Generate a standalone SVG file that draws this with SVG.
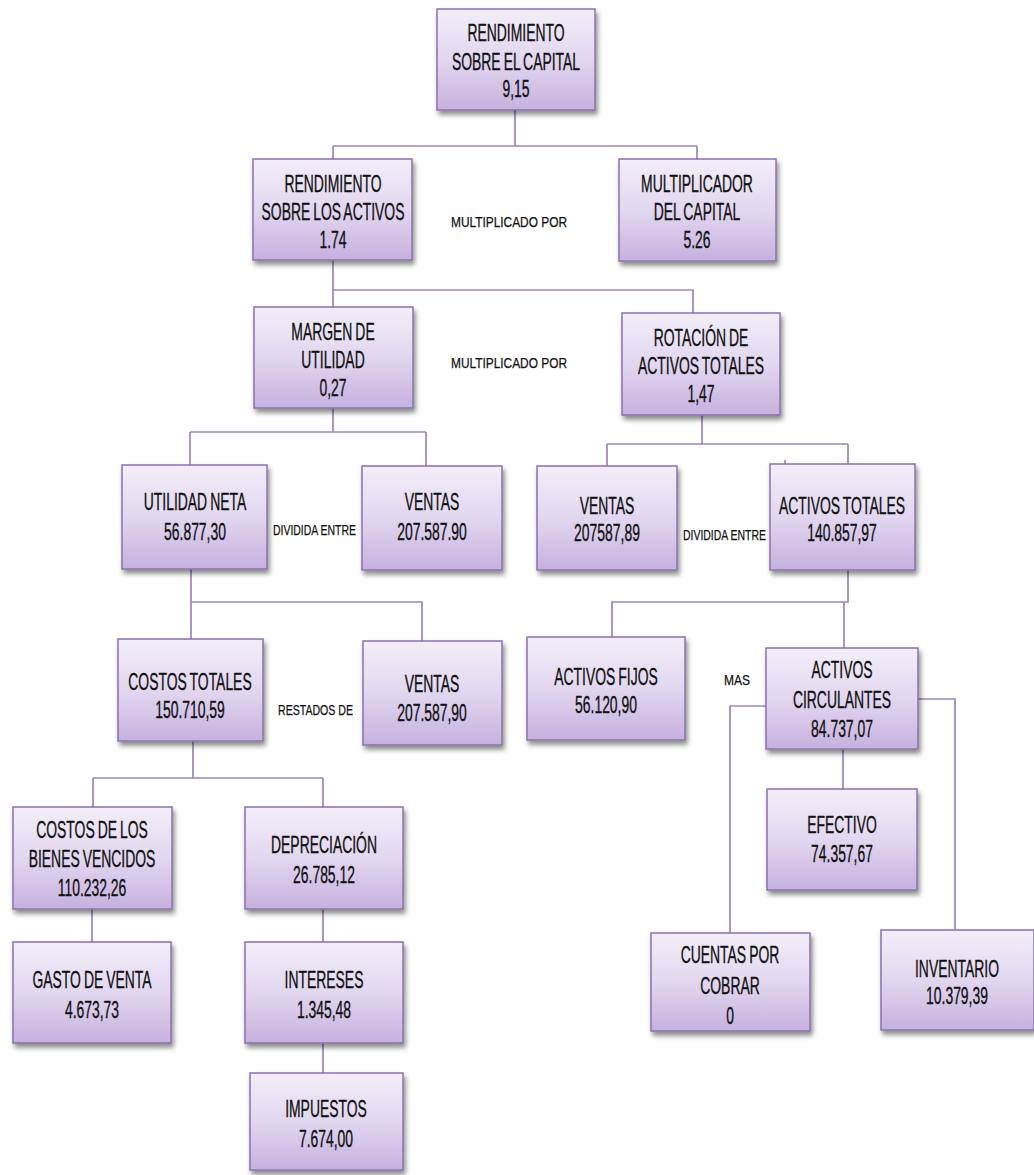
<svg xmlns="http://www.w3.org/2000/svg" width="1034" height="1175" viewBox="0 0 1034 1175">
<defs>
<linearGradient id="g" x1="0" y1="0" x2="0" y2="1">
<stop offset="0" stop-color="#f3eff9"/>
<stop offset="0.5" stop-color="#e2d7f0"/>
<stop offset="1" stop-color="#c6b1df"/>
</linearGradient>
<filter id="sh" x="-10%" y="-10%" width="125%" height="130%">
<feDropShadow dx="2" dy="4" stdDeviation="2.5" flood-color="#000" flood-opacity="0.45"/>
</filter>
</defs>
<style>
.box{fill:url(#g);stroke:#8a72ad;stroke-width:1.5;filter:url(#sh)}
.t{font-family:"Liberation Sans",Arial,sans-serif;font-size:24px;fill:#111;stroke:#111;stroke-width:0.35;text-anchor:middle;word-spacing:-1.5px}
.l{font-family:"Liberation Sans",Arial,sans-serif;font-size:14px;fill:#111;stroke:#111;stroke-width:0.25}
.c{fill:none;stroke:#9a86bb;stroke-width:1.7}
</style>
<g id="connectors">
<path class="c" d="M515 110V146M333 146H697M333 146V159M697 146V159"/>
<path class="c" d="M333 260V290H693V313M333 290V307"/>
<path class="c" d="M333 408V432M190 432H426M190 432V465M426 432V466"/>
<path class="c" d="M702 415V444M607 444H848M607 444V466M848 444V464M785 460V465"/>
<path class="c" d="M848 570V602H612V637M844 602V648"/>
<path class="c" d="M766 706H730V933M918 699H955V930M843 749V789"/>
<path class="c" d="M191 569V602H422V641M191 602V639"/>
<path class="c" d="M193 741V778M93 778H323M93 778V807M323 778V807"/>
<path class="c" d="M92 909V942M323 909V942M323 1043V1073"/>
</g>
<g id="n1"><rect class="box" x="437" y="9" width="158" height="101"/><text class="t" transform="translate(516 41) scale(0.58 1)">RENDIMIENTO</text><text class="t" transform="translate(516 70) scale(0.58 1)">SOBRE EL CAPITAL</text><text class="t" transform="translate(516 97) scale(0.58 1)">9,15</text></g>
<g id="n2"><rect class="box" x="253" y="159" width="159" height="101"/><text class="t" transform="translate(333 192) scale(0.58 1)">RENDIMIENTO</text><text class="t" transform="translate(333 220) scale(0.58 1)">SOBRE LOS ACTIVOS</text><text class="t" transform="translate(333 248) scale(0.58 1)">1.74</text></g>
<text class="l" x="451" y="227" textLength="116" lengthAdjust="spacingAndGlyphs">MULTIPLICADO POR</text>
<g id="n3"><rect class="box" x="619" y="159" width="157" height="102"/><text class="t" transform="translate(697 192) scale(0.58 1)">MULTIPLICADOR</text><text class="t" transform="translate(697 220) scale(0.58 1)">DEL CAPITAL</text><text class="t" transform="translate(697 248) scale(0.58 1)">5.26</text></g>
<g id="n4"><rect class="box" x="254" y="307" width="159" height="101"/><text class="t" transform="translate(333 340) scale(0.58 1)">MARGEN DE</text><text class="t" transform="translate(333 368) scale(0.58 1)">UTILIDAD</text><text class="t" transform="translate(333 396) scale(0.58 1)">0,27</text></g>
<text class="l" x="451" y="368" textLength="116" lengthAdjust="spacingAndGlyphs">MULTIPLICADO POR</text>
<g id="n5"><rect class="box" x="622" y="313" width="158" height="102"/><text class="t" transform="translate(701 346) scale(0.58 1)">ROTACIÓN DE</text><text class="t" transform="translate(701 374) scale(0.58 1)">ACTIVOS TOTALES</text><text class="t" transform="translate(701 402) scale(0.58 1)">1,47</text></g>
<g id="n6"><rect class="box" x="122" y="465" width="145" height="104"/><text class="t" transform="translate(195 510) scale(0.58 1)">UTILIDAD NETA</text><text class="t" transform="translate(195 540) scale(0.58 1)">56.877,30</text></g>
<text class="l" x="273" y="535" textLength="83" lengthAdjust="spacingAndGlyphs">DIVIDIDA ENTRE</text>
<g id="n7"><rect class="box" x="362" y="466" width="140" height="104"/><text class="t" transform="translate(432 510) scale(0.58 1)">VENTAS</text><text class="t" transform="translate(432 540) scale(0.58 1)">207.587.90</text></g>
<g id="n8"><rect class="box" x="537" y="466" width="140" height="104"/><text class="t" transform="translate(607 514) scale(0.58 1)">VENTAS</text><text class="t" transform="translate(607 541) scale(0.58 1)">207587,89</text></g>
<text class="l" x="683" y="540" textLength="83" lengthAdjust="spacingAndGlyphs">DIVIDIDA ENTRE</text>
<g id="n9"><rect class="box" x="770" y="464" width="145" height="106"/><text class="t" transform="translate(842 514) scale(0.58 1)">ACTIVOS TOTALES</text><text class="t" transform="translate(842 541) scale(0.58 1)">140.857,97</text></g>
<g id="n10"><rect class="box" x="527" y="637" width="158" height="103"/><text class="t" transform="translate(606 685) scale(0.58 1)">ACTIVOS FIJOS</text><text class="t" transform="translate(606 713) scale(0.58 1)">56.120,90</text></g>
<text class="l" x="724" y="685" textLength="26" lengthAdjust="spacingAndGlyphs">MAS</text>
<g id="n11"><rect class="box" x="766" y="648" width="152" height="101"/><text class="t" transform="translate(842 678) scale(0.58 1)">ACTIVOS</text><text class="t" transform="translate(842 708) scale(0.58 1)">CIRCULANTES</text><text class="t" transform="translate(842 737) scale(0.58 1)">84.737,07</text></g>
<g id="n12"><rect class="box" x="767" y="789" width="150" height="101"/><text class="t" transform="translate(842 833) scale(0.58 1)">EFECTIVO</text><text class="t" transform="translate(842 862) scale(0.58 1)">74.357,67</text></g>
<g id="n13"><rect class="box" x="651" y="933" width="159" height="98"/><text class="t" transform="translate(730 963) scale(0.58 1)">CUENTAS POR</text><text class="t" transform="translate(730 994) scale(0.58 1)">COBRAR</text><text class="t" transform="translate(730 1024) scale(0.58 1)">0</text></g>
<g id="n14"><rect class="box" x="881" y="930" width="153" height="100"/><text class="t" transform="translate(957 977) scale(0.58 1)">INVENTARIO</text><text class="t" transform="translate(957 1004) scale(0.58 1)">10.379,39</text></g>
<g id="n15"><rect class="box" x="118" y="639" width="145" height="102"/><text class="t" transform="translate(190 690) scale(0.58 1)">COSTOS TOTALES</text><text class="t" transform="translate(190 718) scale(0.58 1)">150.710,59</text></g>
<text class="l" x="278" y="715" textLength="75" lengthAdjust="spacingAndGlyphs">RESTADOS DE</text>
<g id="n16"><rect class="box" x="363" y="641" width="139" height="104"/><text class="t" transform="translate(432 692) scale(0.58 1)">VENTAS</text><text class="t" transform="translate(432 721) scale(0.58 1)">207.587,90</text></g>
<g id="n17"><rect class="box" x="13" y="807" width="159" height="102"/><text class="t" transform="translate(92 838) scale(0.58 1)">COSTOS DE LOS</text><text class="t" transform="translate(92 867) scale(0.58 1)">BIENES VENCIDOS</text><text class="t" transform="translate(92 896) scale(0.58 1)">110.232,26</text></g>
<g id="n18"><rect class="box" x="245" y="807" width="158" height="102"/><text class="t" transform="translate(324 853) scale(0.58 1)">DEPRECIACIÓN</text><text class="t" transform="translate(324 883) scale(0.58 1)">26.785,12</text></g>
<g id="n19"><rect class="box" x="13" y="942" width="158" height="101"/><text class="t" transform="translate(92 988) scale(0.58 1)">GASTO DE VENTA</text><text class="t" transform="translate(92 1018) scale(0.58 1)">4.673,73</text></g>
<g id="n20"><rect class="box" x="245" y="942" width="158" height="101"/><text class="t" transform="translate(324 988) scale(0.58 1)">INTERESES</text><text class="t" transform="translate(324 1018) scale(0.58 1)">1.345,48</text></g>
<g id="n21"><rect class="box" x="250" y="1073" width="153" height="97"/><text class="t" transform="translate(326 1117) scale(0.58 1)">IMPUESTOS</text><text class="t" transform="translate(326 1147) scale(0.58 1)">7.674,00</text></g>
</svg>
